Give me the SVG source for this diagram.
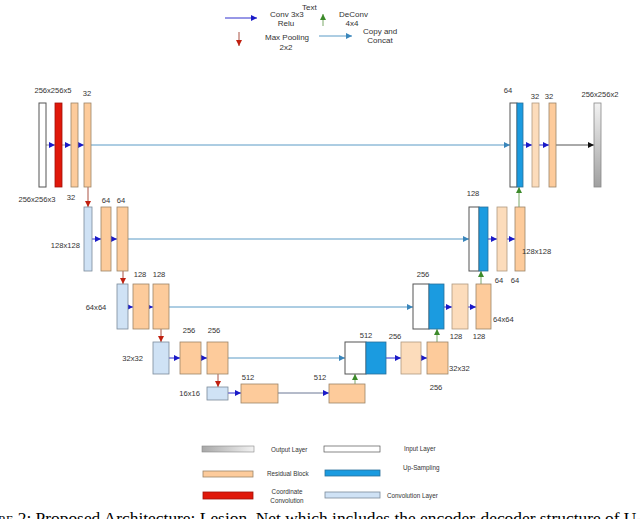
<svg xmlns="http://www.w3.org/2000/svg" width="640" height="519" viewBox="0 0 640 519">
<style>
text{font-family:"Liberation Sans",Arial,sans-serif;fill:#333}
.l{font-size:7.6px}
.t{font-size:8px}
.g{font-size:6.3px}
.c{text-anchor:middle}
.e{text-anchor:end}
.inp{fill:#fff;stroke:#555;stroke-width:1}
.res{fill:#fdcb9b;stroke:#9c8468;stroke-width:0.8}
.res2{fill:#fcdcbb;stroke:#b09a80;stroke-width:0.8}
.conv{fill:#cfe2f5;stroke:#7a8a9a;stroke-width:0.8}
.up{fill:#1b9be0;stroke:#2a6f9a;stroke-width:0.8}
.coord{fill:#e0180a;stroke:#a01008;stroke-width:0.8}
.out{fill:url(#gr);stroke:#888;stroke-width:0.8}
.b{stroke:#1a1ac8;stroke-width:0.9;fill:none;marker-end:url(#mb)}
.bg{stroke:#888;stroke-width:0.9;fill:none;marker-end:url(#mb)}
.s{stroke:#5b9bc6;stroke-width:1;fill:none;marker-end:url(#ms)}
.r{stroke:#a04030;stroke-width:0.9;fill:none;marker-end:url(#mr)}
.gn{stroke:#7aa868;stroke-width:1;fill:none;marker-end:url(#mg)}
.k{stroke:#555;stroke-width:1;fill:none;marker-end:url(#mk)}
</style>
<defs>
<linearGradient id="gr" x1="0" y1="0" x2="0" y2="1">
<stop offset="0" stop-color="#f2f2f2"/><stop offset="1" stop-color="#a0a0a0"/>
</linearGradient>
<linearGradient id="grh" x1="0" y1="0" x2="1" y2="0">
<stop offset="0" stop-color="#a8a8a8"/><stop offset="1" stop-color="#f2f2f2"/>
</linearGradient>
<marker id="mb" markerUnits="userSpaceOnUse" markerWidth="6" markerHeight="6" refX="6" refY="3" orient="auto"><path d="M0,0L6,3L0,6z" fill="#1a1ac8"/></marker>
<marker id="ms" markerUnits="userSpaceOnUse" markerWidth="6" markerHeight="6" refX="6" refY="3" orient="auto"><path d="M0,0L6,3L0,6z" fill="#3a86bb"/></marker>
<marker id="mr" markerUnits="userSpaceOnUse" markerWidth="6" markerHeight="6" refX="6" refY="3" orient="auto"><path d="M0,0L6,3L0,6z" fill="#c02010"/></marker>
<marker id="mg" markerUnits="userSpaceOnUse" markerWidth="6" markerHeight="6" refX="6" refY="3" orient="auto"><path d="M0,0L6,3L0,6z" fill="#3c8a2a"/></marker>
<marker id="mk" markerUnits="userSpaceOnUse" markerWidth="6" markerHeight="6" refX="6" refY="3" orient="auto"><path d="M0,0L6,3L0,6z" fill="#111"/></marker>
</defs>

<g id="legend-top">
<line class="b" x1="225" y1="18" x2="257" y2="18"/>
<text class="t" x="270" y="17">Conv 3x3</text>
<text class="t c" x="286" y="26">Relu</text>
<text class="t" x="302" y="10">Text</text>
<line class="gn" x1="323" y1="26" x2="323" y2="14"/>
<text class="t" x="339" y="17">DeConv</text>
<text class="t c" x="352" y="26">4x4</text>
<line class="r" x1="239" y1="32" x2="239" y2="46"/>
<text class="t" x="265" y="40">Max Pooling</text>
<text class="t c" x="286" y="50">2x2</text>
<line class="s" x1="319" y1="36" x2="352" y2="36"/>
<text class="t" x="363" y="34">Copy and</text>
<text class="t c" x="380" y="43">Concat</text>
</g>

<g id="connectors">
<line class="s" x1="91" y1="145" x2="510" y2="145"/>
<line class="s" x1="128" y1="239" x2="469" y2="239"/>
<line class="s" x1="169" y1="307" x2="413" y2="307"/>
<line class="s" x1="228" y1="358" x2="345" y2="358"/>
<line class="b" x1="278" y1="393" x2="329" y2="393" style="stroke:#5a6888"/>
<line class="bg" x1="46" y1="145" x2="55" y2="145"/>
<line class="bg" x1="62" y1="145" x2="71" y2="145"/>
<line class="bg" x1="78" y1="145" x2="84" y2="145"/>
<line class="b" x1="92" y1="239" x2="101" y2="239"/>
<line class="b" x1="111" y1="239" x2="117" y2="239"/>
<line class="b" x1="128" y1="307" x2="133" y2="307"/>
<line class="b" x1="149" y1="307" x2="153" y2="307"/>
<line class="b" x1="169" y1="358" x2="180" y2="358"/>
<line class="b" x1="201" y1="358" x2="207" y2="358"/>
<line class="b" x1="228" y1="393" x2="241" y2="393"/>
<line class="b" x1="386" y1="358" x2="401" y2="358"/>
<line class="b" x1="421" y1="358" x2="427" y2="358"/>
<line class="b" x1="444" y1="307" x2="452" y2="307"/>
<line class="b" x1="468" y1="307" x2="476" y2="307"/>
<line class="b" x1="488" y1="239" x2="497" y2="239"/>
<line class="b" x1="507" y1="239" x2="515" y2="239"/>
<line class="b" x1="523" y1="145" x2="532" y2="145"/>
<line class="b" x1="539" y1="145" x2="549" y2="145"/>
<line class="k" x1="556" y1="145" x2="594" y2="145"/>
<line class="r" x1="88" y1="187" x2="88" y2="207"/>
<line class="r" x1="123" y1="271" x2="123" y2="284"/>
<line class="r" x1="161" y1="329" x2="161" y2="342"/>
<line class="r" x1="218" y1="374" x2="218" y2="387"/>
<line class="gn" x1="355" y1="384" x2="355" y2="374"/>
<line class="gn" x1="437" y1="342" x2="437" y2="329"/>
<line class="gn" x1="481" y1="284" x2="481" y2="271"/>
<line class="gn" x1="519" y1="207" x2="519" y2="187"/>
</g>

<g id="enc1">
<rect class="inp" x="39" y="103" width="7" height="84"/>
<rect class="coord" x="55" y="103" width="7" height="84"/>
<rect class="res" x="71" y="103" width="7" height="84"/>
<rect class="res" x="84" y="103" width="7" height="84"/>
<text class="l c" x="53" y="93">256x256x5</text>
<text class="l c" x="87" y="96">32</text>
<text class="l c" x="37" y="202">256x256x3</text>
<text class="l c" x="71" y="200">32</text>
</g>
<g id="enc2">
<rect class="conv" x="84" y="207" width="8" height="64"/>
<rect class="res" x="101" y="207" width="10" height="64"/>
<rect class="res" x="117" y="207" width="11" height="64"/>
<text class="l c" x="106" y="203">64</text>
<text class="l c" x="121" y="203">64</text>
<text class="l e" x="80" y="248">128x128</text>
</g>
<g id="enc3">
<rect class="conv" x="117" y="284" width="11" height="45"/>
<rect class="res" x="133" y="284" width="16" height="45"/>
<rect class="res" x="153" y="284" width="16" height="45"/>
<text class="l c" x="140" y="277">128</text>
<text class="l c" x="159" y="277">128</text>
<text class="l c" x="96" y="310">64x64</text>
</g>
<g id="enc4">
<rect class="conv" x="153" y="342" width="16" height="32"/>
<rect class="res" x="180" y="342" width="21" height="32"/>
<rect class="res" x="207" y="342" width="21" height="32"/>
<text class="l c" x="189" y="333">256</text>
<text class="l c" x="214" y="333">256</text>
<text class="l e" x="143" y="361">32x32</text>
</g>
<g id="bottleneck">
<rect class="conv" x="207" y="387" width="21" height="13"/>
<rect class="res" x="241" y="384" width="37" height="19"/>
<rect class="res" x="329" y="384" width="36" height="19"/>
<text class="l e" x="200" y="396">16x16</text>
<text class="l c" x="248" y="380">512</text>
<text class="l c" x="320" y="380">512</text>
</g>
<g id="dec4">
<rect class="inp" x="345" y="342" width="21" height="32"/>
<rect class="up" x="366" y="342" width="20" height="32"/>
<rect class="res2" x="401" y="342" width="20" height="32"/>
<rect class="res" x="427" y="342" width="21" height="32"/>
<text class="l c" x="366" y="338">512</text>
<text class="l c" x="395" y="339">256</text>
<text class="l" x="449" y="371">32x32</text>
<text class="l c" x="436" y="390">256</text>
</g>
<g id="dec3">
<rect class="inp" x="413" y="284" width="16" height="45"/>
<rect class="up" x="429" y="284" width="15" height="45"/>
<rect class="res2" x="452" y="284" width="16" height="45"/>
<rect class="res" x="476" y="284" width="15" height="45"/>
<text class="l c" x="423" y="277">256</text>
<text class="l c" x="456" y="339">128</text>
<text class="l c" x="479" y="339">128</text>
<text class="l" x="493" y="322">64x64</text>
</g>
<g id="dec2">
<rect class="inp" x="469" y="207" width="10" height="64"/>
<rect class="up" x="479" y="207" width="9" height="64"/>
<rect class="res2" x="497" y="207" width="10" height="64"/>
<rect class="res" x="515" y="207" width="10" height="64"/>
<text class="l c" x="473" y="196">128</text>
<text class="l c" x="499" y="283">64</text>
<text class="l c" x="515" y="283">64</text>
<text class="l" x="522" y="254">128x128</text>
</g>
<g id="dec1">
<rect class="inp" x="510" y="103" width="7" height="84"/>
<rect class="up" x="517" y="103" width="6" height="84"/>
<rect class="res2" x="532" y="103" width="7" height="84"/>
<rect class="res" x="549" y="103" width="7" height="84"/>
<rect class="out" x="594" y="103" width="7" height="84"/>
<text class="l c" x="508" y="93">64</text>
<text class="l c" x="535" y="99">32</text>
<text class="l c" x="549" y="99">32</text>
<text class="l c" x="600" y="97">256x256x2</text>
</g>

<g id="legend-bottom">
<rect x="202" y="446" width="52" height="6" fill="url(#grh)" stroke="#888" stroke-width="0.6"/>
<text class="g" x="271" y="452">Output Layer</text>
<rect class="inp" x="324" y="446" width="56" height="6" style="stroke-width:0.7"/>
<text class="g" x="404" y="451">Input Layer</text>
<rect class="res" x="203" y="471" width="50" height="6"/>
<text class="g" x="267" y="476">Residual Block</text>
<rect class="up" x="325" y="470" width="55" height="6"/>
<text class="g" x="403" y="470">Up-Sampling</text>
<rect class="coord" x="203" y="492" width="50" height="7"/>
<text class="g c" x="287" y="494">Coordinate</text>
<text class="g c" x="287" y="503">Convolution</text>
<rect class="conv" x="325" y="492" width="55" height="6"/>
<text class="g" x="387" y="498">Convolution Layer</text>
</g>

<text x="-33" y="523.5" style="font-family:'Liberation Serif','Times New Roman',serif;font-size:17.4px;fill:#000"><tspan style="font-variant:small-caps">Figure</tspan> 2: Proposed Architecture: Lesion_Net which includes the encoder-decoder structure of U-Net</text>
</svg>
